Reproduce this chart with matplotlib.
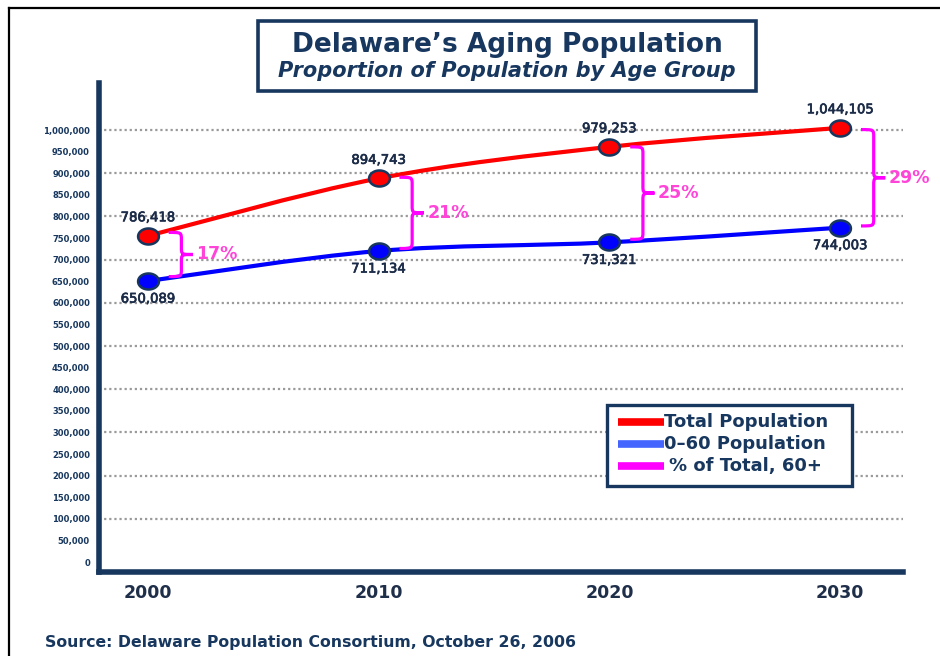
import numpy as np
import matplotlib
matplotlib.use("Agg")
import matplotlib.pyplot as plt
import matplotlib.patheffects as pe
from matplotlib.path import Path
from matplotlib.patches import PathPatch, Rectangle
from matplotlib.lines import Line2D

# data (plotted heights) and the printed labels
years = [2000, 2010, 2020, 2030]
total_pos = [755000, 888000, 961000, 1005000]
young_pos = [650500, 720000, 740000, 774000]
total_labels = ["786,418", "894,743", "979,253", "1,044,105"]
young_labels = ["650,089", "711,134", "731,321", "744,003"]
share_labels = ["17%", "21%", "25%", "29%"]
yticks = list(range(0, 1000001, 50000))
grid_levels = list(range(100000, 1000001, 100000))
legend_labels = ["Total Population", "0\u201360 Population", "% of Total, 60+"]

NAVY = "#17375E"
RED = "#FF0000"
BLUE = "#0000FF"
MAG = "#FF00FF"
PCT = "#FF44D8"

W, H = 940, 656
plt.rcParams["font.family"] = ["DejaVu Sans"]
fig = plt.figure(figsize=(W / 100, H / 100), dpi=100)


def fx(x):
    return x / W


def fy(y):
    return 1 - y / H


ax = fig.add_axes([fx(99), fy(572), fx(903) - fx(99), fy(83) - fy(572)])
ax.set_xlim(1997.88, 2032.72)
ax.set_ylim(-23000, 1108800)

for s in ["top", "right"]:
    ax.spines[s].set_visible(False)
for s in ["left", "bottom"]:
    ax.spines[s].set_color(NAVY)
    ax.spines[s].set_linewidth(4)
    ax.spines[s].set_capstyle("projecting")

for g in grid_levels:
    ax.axhline(g, color="#9a9a9a", lw=1.6, ls=(0, (1, 1.3)), zorder=1)

ax.set_yticks(yticks)
ax.set_yticklabels([f"{v:,}" for v in yticks], fontsize=6, fontweight="bold", color=NAVY)
ax.set_xticks(years)
ax.set_xticklabels([str(y) for y in years], fontsize=12.5, fontweight="bold", color="#1f2f4a")
ax.tick_params(axis="y", length=0, pad=6.5)
ax.tick_params(axis="x", length=0, pad=9)


def smooth_path(xs, ys):
    pts = np.column_stack([xs, ys]).astype(float)
    ext = np.vstack([pts[0], pts, pts[-1]])
    verts = [pts[0]]
    codes = [Path.MOVETO]
    for i in range(len(pts) - 1):
        p0, p1, p2, p3 = ext[i], ext[i + 1], ext[i + 2], ext[i + 3]
        verts += [p1 + (p2 - p0) / 6, p2 - (p3 - p1) / 6, p2]
        codes += [Path.CURVE4] * 3
    return Path(verts, codes)


ax.add_patch(PathPatch(smooth_path(years, total_pos), fill=False, ec=RED, lw=3, zorder=3))
ax.add_patch(PathPatch(smooth_path(years, young_pos), fill=False, ec=BLUE, lw=3, zorder=3))

t = np.linspace(0, 2 * np.pi, 60)
ellipse = Path(np.column_stack([1.3 * np.cos(t), np.sin(t)]), closed=True)
ax.plot(years, total_pos, ls="none", marker=ellipse, ms=15, mfc=RED, mec=NAVY, mew=1.8, zorder=5)
ax.plot(years, young_pos, ls="none", marker=ellipse, ms=15, mfc=BLUE, mec=NAVY, mew=1.8, zorder=5)

lab_fx = [pe.withStroke(linewidth=0.5, foreground="#1c2c48")]
for x, y, lab in zip(years, total_pos, total_labels):
    ax.annotate(lab, (x, y), xytext=(0, 13), textcoords="offset points", ha="center",
                va="center", fontsize=9.5, color="#1c2c48", zorder=6, path_effects=lab_fx)
for x, y, lab in zip(years, young_pos, young_labels):
    ax.annotate(lab, (x, y), xytext=(0, -13), textcoords="offset points", ha="center",
                va="center", fontsize=9.5, color="#1c2c48", zorder=6, path_effects=lab_fx)

# curly braces between the two lines
b0, bv, bt = 0.9, 1.45, 1.95
r = 17000
for x, lab in zip(years, share_labels):
    top = np.interp(x + b0, years, total_pos) - 4000
    bot = np.interp(x + b0, years, young_pos) + 4000
    mid = (top + bot) / 2
    x0, xv, xt = x + b0, x + bv, x + bt
    verts = [(x0, top), (xv, top), (xv, top), (xv, top - r),
             (xv, mid + r), (xv, mid), (xv, mid), (xt, mid),
             (xv, mid), (xv, mid), (xv, mid - r),
             (xv, bot + r), (xv, bot), (xv, bot), (x0, bot)]
    codes = [Path.MOVETO, Path.CURVE4, Path.CURVE4, Path.CURVE4,
             Path.LINETO, Path.CURVE4, Path.CURVE4, Path.CURVE4,
             Path.CURVE4, Path.CURVE4, Path.CURVE4,
             Path.LINETO, Path.CURVE4, Path.CURVE4, Path.CURVE4]
    ax.add_patch(PathPatch(Path(verts, codes), fill=False, ec=MAG, lw=2.3, zorder=4))
    ax.text(xt + 0.15, mid, lab, ha="left", va="center", fontsize=12.5,
            fontweight="bold", color=PCT, zorder=6)

# outer frame lines
fig.add_artist(Line2D([fx(9), fx(9)], [fy(8), 0], color="black", lw=1.6))
fig.add_artist(Line2D([fx(9), 1], [fy(8), fy(8)], color="black", lw=1.6))

# title box
fig.add_artist(Rectangle((fx(258), fy(91)), fx(756) - fx(258), fy(21) - fy(91),
                         fill=True, fc="white", ec=NAVY, lw=2.6))
fig.text(fx(507), fy(52), "Delaware\u2019s Aging Population", ha="center", va="baseline",
         fontsize=19, fontweight="bold", color=NAVY)
fig.text(fx(507), fy(77), "Proportion of Population by Age Group", ha="center", va="baseline",
         fontsize=15, fontweight="bold", fontstyle="italic", color=NAVY)

# legend box
fig.add_artist(Rectangle((fx(607), fy(486)), fx(852) - fx(607), fy(405) - fy(486),
                         fill=True, fc="white", ec=NAVY, lw=2.4, zorder=10))
leg_colors = [RED, "#4466FF", "#FF00FF"]
leg_rows = [422, 444, 466]
leg_text_x = [664, 664, 669]
for c, yy, tx, lab in zip(leg_colors, leg_rows, leg_text_x, legend_labels):
    fig.add_artist(Line2D([fx(618), fx(664)], [fy(yy), fy(yy)], color=c, lw=5.5,
                          solid_capstyle="butt", zorder=11))
    fig.text(fx(tx), fy(yy), lab, ha="left", va="center", fontsize=13,
             fontweight="bold", color=NAVY, zorder=12)

fig.text(fx(45), fy(642), "Source: Delaware Population Consortium, October 26, 2006",
         ha="left", va="center", fontsize=11.3, fontweight="bold", color=NAVY)

fig.savefig("out.png", dpi=100)
